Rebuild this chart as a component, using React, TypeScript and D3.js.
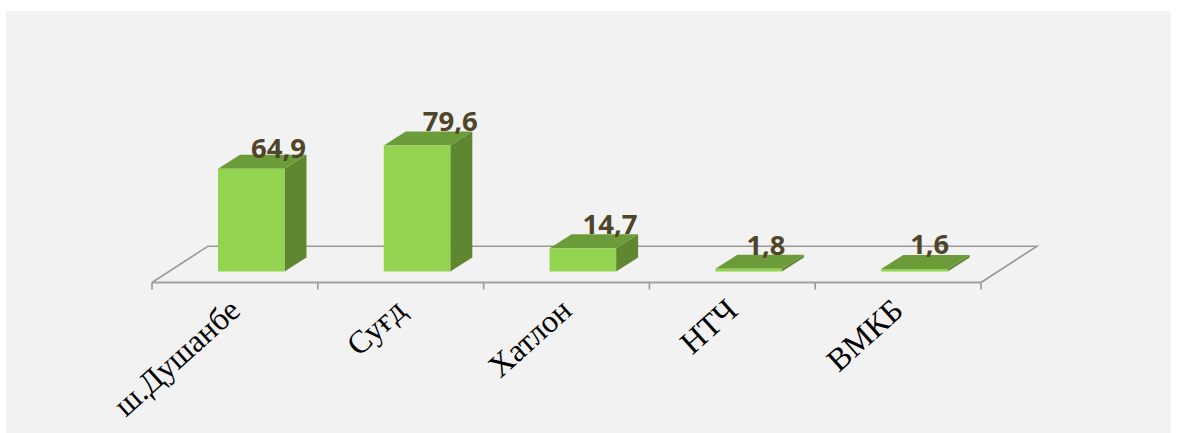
import React from "react";
import * as d3 from "d3";

const categories = ["ш.Душанбе", "Суғд", "Хатлон", "НТЧ", "ВМКБ"];
const values = [64.9, 79.6, 14.7, 1.8, 1.6];
const labels = ["64,9", "79,6", "14,7", "1,8", "1,6"];
const labelShiftX = [-6, 0, -6, -16, -18];
const labelBaseline = [158, 131, 234, 255, 254];

const W = 1179, H = 433;
const floorFrontY = 282.5, floorBackY = 246.2;
const plotL = 152, plotR = 981;
const depthX = 56;
const barBase = 271.5;
const barDx = 22, barDy = 14;

const x = d3.scaleBand<string>().domain(categories).range([plotL, plotR]).paddingInner(0).paddingOuter(0);
const y = d3.scaleLinear().domain([0, 79.6]).range([barBase, 145.5]);
const path = d3.line();

export default function App() {
  const bw = x.bandwidth();
  return (
    <svg width={W} height={H} style={{ position: "absolute", left: 0, top: 0 }}>
      <rect x={6} y={11} width={1165} height={422} fill="#f2f2f2" />
      <path
        d={path([[plotL, floorFrontY], [plotL + depthX, floorBackY], [plotR + depthX, floorBackY], [plotR, floorFrontY]])!}
        fill="none" stroke="#989898" strokeWidth={1.6}
      />
      <line x1={plotL} x2={plotR} y1={floorFrontY} y2={floorFrontY} stroke="#a0a0a0" strokeWidth={2} />
      {d3.range(categories.length + 1).map((i) => {
        const tx = plotL + i * bw;
        return <line key={i} x1={tx} x2={tx} y1={floorFrontY} y2={289.5} stroke="#989898" strokeWidth={1.6} />;
      })}
      {categories.map((c, i) => {
        const x0 = x(c)! + 66;
        const x1 = x0 + 66.5;
        const yt = y(values[i]);
        return (
          <g key={c}>
            <path d={path([[x1, yt], [x1 + barDx, yt - barDy], [x1 + barDx, barBase - barDy], [x1, barBase]])!} fill="#5f8732" />
            <path d={path([[x0, yt], [x0 + barDx, yt - barDy], [x1 + barDx, yt - barDy], [x1, yt]])!} fill="#6c9c3a" />
            <rect x={x0} y={yt} width={x1 - x0} height={barBase - yt} fill="#92d34f" />
            <text
              x={x1 + labelShiftX[i]}
              y={labelBaseline[i]}
              textAnchor="middle"
              fontFamily="'Open Sans', sans-serif"
              fontWeight={700}
              fontSize={27}
              fill="#4f4529"
              textLength={labels[i].length === 4 ? 55 : 39}
              lengthAdjust="spacingAndGlyphs"
            >
              {labels[i]}
            </text>
          </g>
        );
      })}
      {categories.map((c, i) => {
        const ax = x(c)! + 90;
        return (
          <text
            key={c}
            transform={`translate(${ax},${313}) rotate(-42)`}
            textAnchor="end"
            fontFamily="'Liberation Serif', serif"
            fontSize={32}
            fill="#000"
          >
            {c}
          </text>
        );
      })}
    </svg>
  );
}
